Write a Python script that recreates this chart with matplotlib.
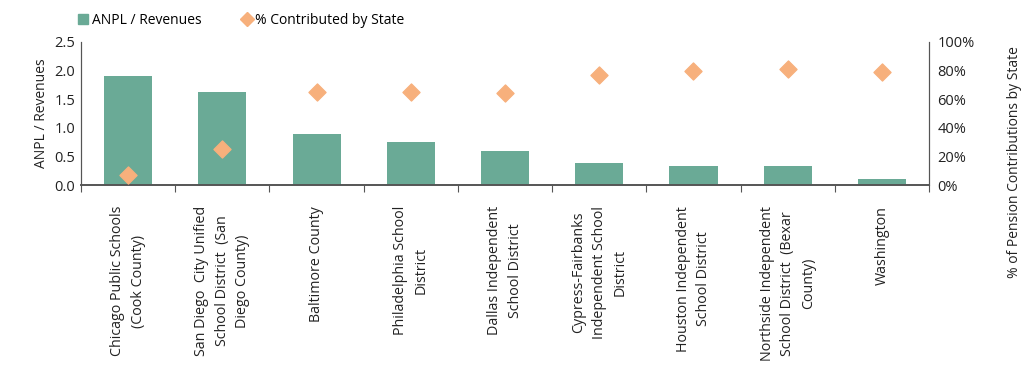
import numpy as np
import matplotlib.pyplot as plt
from matplotlib.lines import Line2D
from matplotlib.ticker import PercentFormatter

plt.rcParams['font.family'] = ['Open Sans', 'DejaVu Sans']

districts = [
    "Chicago Public Schools\n(Cook County)",
    "San Diego  City Unified\nSchool District  (San\nDiego County)",
    "Baltimore County",
    "Philadelphia School\nDistrict",
    "Dallas Independent\nSchool District",
    "Cypress-Fairbanks\nIndependent School\nDistrict",
    "Houston Independent\nSchool District",
    "Northside Independent\nSchool District  (Bexar\nCounty)",
    "Washington",
]
anpl_rev = [1.90, 1.62, 0.90, 0.76, 0.60, 0.38, 0.34, 0.34, 0.11]
pct_state = [7, 25, 65, 65, 64, 77, 80, 81, 79]

bar_color = '#6aaa96'
dot_color = '#f7b07c'
axis_color = '#555555'

fig = plt.figure(figsize=(10.31, 3.65), dpi=100)
ax = fig.add_axes([0.0786, 0.493, 0.8225, 0.392])
x = np.arange(len(districts))
ax.bar(x, anpl_rev, width=0.51, color=bar_color, zorder=2)
ax.set_xlim(-0.5, len(districts) - 0.5)
ax.set_ylim(0, 2.5)
ax.set_yticks([0, 0.5, 1.0, 1.5, 2.0, 2.5])
ax.set_yticklabels(['0.0', '0.5', '1.0', '1.5', '2.0', '2.5'])
ax.set_ylabel('ANPL / Revenues', fontsize=10, color='#222222')

ax2 = ax.twinx()
ax2.scatter(x, pct_state, marker='D', s=75, color=dot_color, zorder=3)
ax2.set_ylim(0, 100)
ax2.set_yticks(range(0, 101, 20))
ax2.yaxis.set_major_formatter(PercentFormatter(decimals=0))
fig.text(1015 / 1031, 1 - 162 / 365, '% of Pension Contributions by State',
         rotation=90, ha='center', va='center', fontsize=10, color='#222222')

# category boundary ticks on x axis
ax.set_xticks(np.arange(-0.5, len(districts), 1.0), minor=False)
ax.set_xticklabels([])
ax.tick_params(axis='x', direction='out', length=5, color=axis_color)
for xi, name in zip(x, districts):
    ax.annotate(name, xy=(xi, 0), xycoords=('data', 'axes fraction'),
                xytext=(0, -15), textcoords='offset points',
                rotation=90, ha='center', va='top', multialignment='center',
                fontsize=10.3, color='#222222', linespacing=1.5)

for a in (ax, ax2):
    a.spines['top'].set_visible(False)
    a.spines['left'].set_color(axis_color)
    a.spines['right'].set_color(axis_color)
    a.spines['bottom'].set_color(axis_color)
    a.spines['bottom'].set_linewidth(1.2)
    a.tick_params(axis='y', length=0, labelsize=10.5, labelcolor='#222222')
ax.tick_params(axis='y', pad=4)
ax2.tick_params(axis='y', pad=6)

handles = [
    Line2D([], [], marker='s', linestyle='none', color=bar_color, markersize=7),
    Line2D([], [], marker='D', linestyle='none', color=dot_color, markersize=7),
]
fig.legend(handles, ['ANPL / Revenues', '% Contributed by State'],
           loc='upper left', bbox_to_anchor=(0.062, 1.0), ncol=2, frameon=False,
           fontsize=10, handletextpad=0.1, columnspacing=2.8, handlelength=1.0)

fig.savefig('out.png', dpi=100)
